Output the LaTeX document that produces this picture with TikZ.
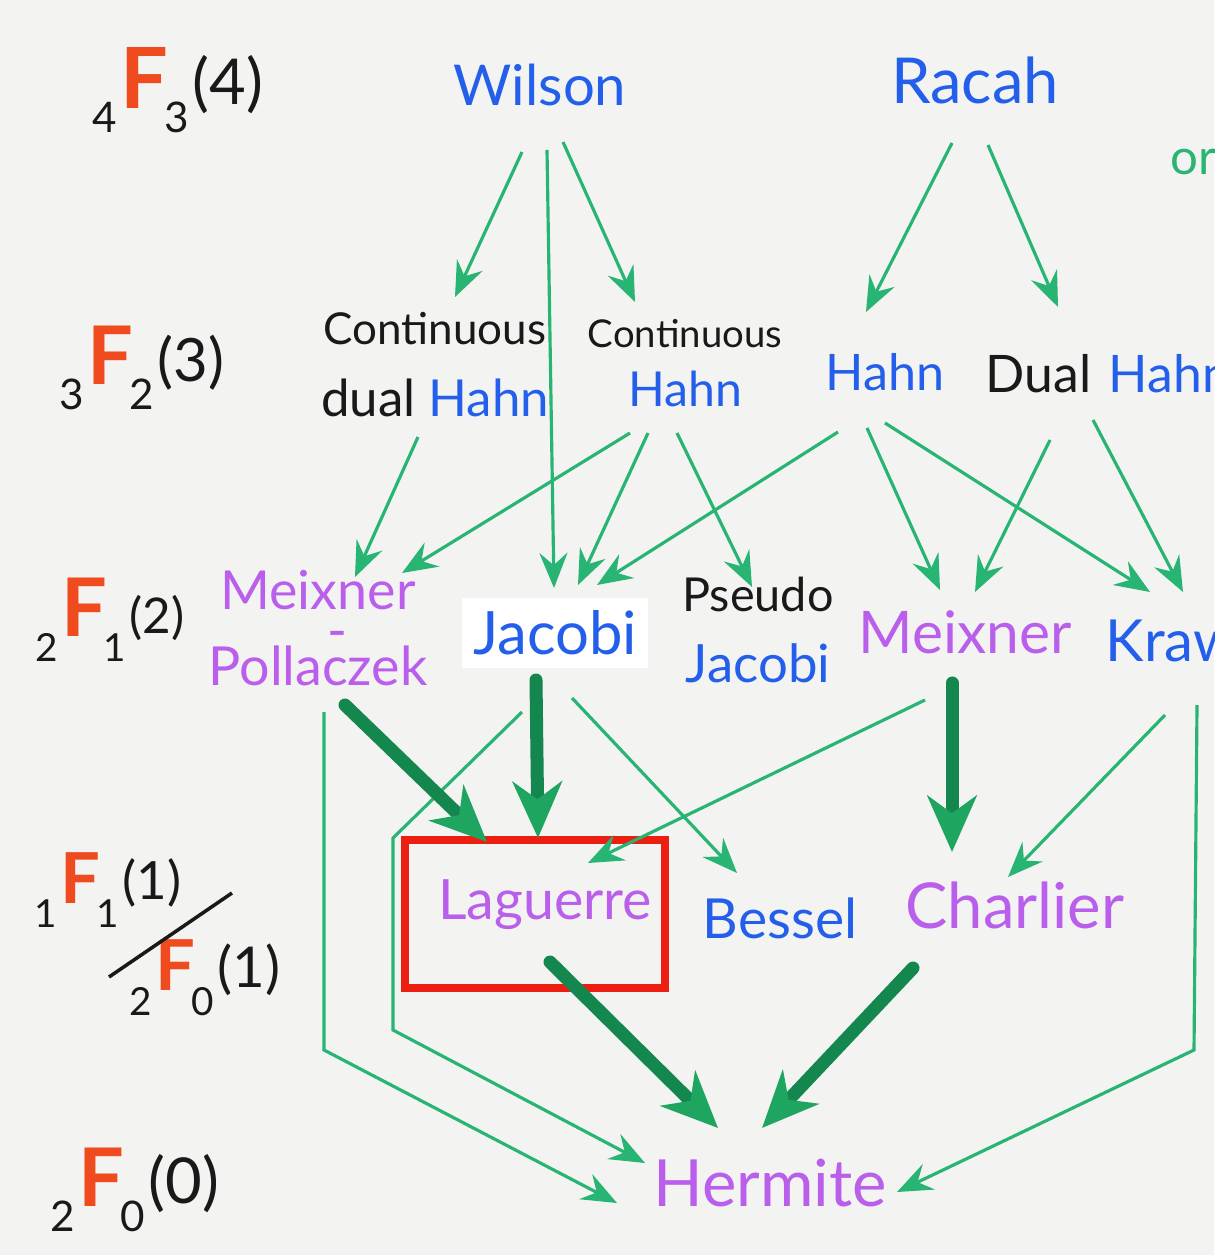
\documentclass[tikz,border=0pt]{standalone}
\usepackage{fontspec}
\setmainfont{Lato}
\setsansfont{Lato}
\usetikzlibrary{arrows.meta,calc}
\definecolor{bg}{RGB}{243,243,242}
\definecolor{tblue}{RGB}{35,95,235}
\definecolor{tpurple}{RGB}{185,95,235}
\definecolor{tblack}{RGB}{25,25,25}
\definecolor{lgreen}{RGB}{40,180,115}
\definecolor{dgreen}{RGB}{20,135,78}
\definecolor{mgreen}{RGB}{30,165,95}
\definecolor{Fred}{RGB}{240,75,30}
\definecolor{boxred}{RGB}{236,30,18}
\newcommand{\myfs}[1]{\fontsize{#1}{#1}\selectfont}
% size of F, size of indices, size of bracket, pre-subscript, post-subscript, bracketed index
\newcommand{\hypF}[6]{\raisebox{-7pt}{\myfs{#2}#4}\kern1pt\textcolor{Fred}{\myfs{#1}\textbf{F}}\kern-1pt\raisebox{-7pt}{\myfs{#2}#5}\kern1pt\raisebox{1pt}{\myfs{#3}(#6)}}
\begin{document}
\begin{tikzpicture}[x=0.01cm,y=-0.01cm,
  lb/.style={inner sep=0pt, align=center, text=tblue},
  hl/.style={inner sep=0pt, text=tblack},
  thinarr/.style={draw=lgreen, line width=0.9pt, -{Stealth[length=10pt,width=8pt,inset=3.5pt]}},
  thickarr/.style={draw=dgreen, line width=3.7pt, line cap=round, -{Stealth[length=16pt,width=14pt,inset=5pt,color=mgreen]}},
  redbox/.style={draw=boxred, line width=2pt}]
\fill[bg] (0,0) rectangle (1214,1255);
\useasboundingbox (0,0) rectangle (1214,1255);

% row labels
\node[hl] (r4) at (178,90) {\hypF{24}{12}{18}{4}{3}{4}};
\node[hl] (r3) at (142,368) {\hypF{23}{12}{17}{3}{2}{3}};
\node[hl] (r2) at (110,620) {\hypF{23}{11}{14}{2}{1}{2}};
\node[hl] (r1a) at (108,890) {\hypF{20}{11}{15}{1}{1}{1}};
\node[hl] (r1b) at (205,978) {\hypF{20}{11}{16}{2}{0}{1}};
\node[hl] (r0) at (135,1190) {\hypF{23}{12}{18}{2}{0}{0}};
\draw[tblack, line width=1pt] ($(r1b)+(-96,-1)$) -- ($(r1a)+(124,3)$);

% families
\node[lb, font=\myfs{16}] (wilson) at (540,85) {Wilson};
\node[lb, font=\myfs{18}] (racah) at (975,80) {Racah};
\node[lb, anchor=west, text=lgreen, font=\myfs{14}] (ornode) at (1170,162) {or};

\node[lb, text=tblack, font=\myfs{14.5}] (cdh) at (435,365) {{\myfs{12.5}Continuous}\\[6pt]dual \textcolor{tblue}{Hahn}};
\node[lb, text=tblack, font=\myfs{13.7}] (ch) at (685,363) {{\myfs{10.9}Continuous}\\[3pt]\textcolor{tblue}{Hahn}};
\node[lb, font=\myfs{14.3}] (hahn) at (885,372) {Hahn};
\node[lb, anchor=west, text=tblack, font=\myfs{14.7}] (dualhahn) at (985,374) {Dual\hspace{5pt}\textcolor{tblue}{Hahn}};

\node[lb, text=tpurple, font=\myfs{15.3}] (mp) at (318,628) {Meixner\\[-4pt]\hspace*{11pt}-\\[-5pt]Pollaczek};
\node[lb, fill=white, minimum width=1.86cm, minimum height=0.7cm, font=\myfs{17}] (jacobi) at (555,633) {Jacobi};
\node[lb, text=tblack, font=\myfs{15}] (pj) at (758,630) {{\myfs{13.3}Pseudo}\\[5pt]\textcolor{tblue}{Jacobi}};
\node[lb, text=tpurple, font=\myfs{16.7}] (meixner) at (965,632) {Meixner};
\node[lb, anchor=west, font=\myfs{16.5}] (kraw) at (1105,640) {Krawtchouk};

\node[lb, text=tpurple, font=\myfs{15.8}] (laguerre) at (545,905) {Laguerre};
\node[lb, font=\myfs{15.7}] (bessel) at (780,918) {Bessel};
\node[lb, text=tpurple, font=\myfs{18}] (charlier) at (1015,905) {Charlier};
\node[lb, text=tpurple, font=\myfs{18.5}] (hermite) at (770,1183) {Hermite};

\draw[redbox] ($(laguerre)+(-140,-65)$) rectangle ($(laguerre)+(120,83)$);

% bend points
\coordinate (mpbend) at (324,1050);
\coordinate (jacA) at (393,838);
\coordinate (jacB) at (393,1030);
\coordinate (krbend) at (1194,1050);

% thin arrows
\draw[thinarr] ($(wilson)+(-18,67)$) -- ($(cdh)+(20,-68)$);
\draw[thinarr] ($(wilson)+(23,57)$) -- ($(ch)+(-50,-61)$);
\draw[thinarr] ($(wilson)+(7,65)$) -- ($(jacobi)+(-1,-45)$);
\draw[thinarr] ($(racah)+(-23,63)$) -- ($(hahn)+(-19,-60)$);
\draw[thinarr] ($(racah)+(13,65)$) -- ($(dualhahn.west)+(73,-67)$);
\draw[thinarr] ($(cdh)+(-17,72)$) -- ($(mp)+(37,-51)$);
\draw[thinarr] ($(ch)+(-55,70)$) -- ($(mp)+(84,-55)$);
\draw[thinarr] ($(ch)+(-37,70)$) -- ($(jacobi)+(23,-48)$);
\draw[thinarr] ($(ch)+(-8,70)$) -- ($(pj)+(-6,-43)$);
\draw[thinarr] ($(hahn)+(-47,60)$) -- ($(jacobi)+(42,-48)$);
\draw[thinarr] ($(hahn)+(-18,56)$) -- ($(meixner)+(-25,-42)$);
\draw[thinarr] ($(hahn)+(0,51)$) -- ($(kraw.west)+(45,-48)$);
\draw[thinarr] ($(dualhahn.west)+(65,66)$) -- ($(meixner)+(10,-40)$);
\draw[thinarr] ($(dualhahn.west)+(108,46)$) -- ($(kraw.west)+(78,-48)$);
\draw[thinarr] ($(jacobi)+(17,65)$) -- ($(bessel)+(-43,-45)$);
\draw[thinarr] ($(meixner)+(-40,68)$) -- ($(laguerre)+(43,-42)$);
\draw[thinarr] ($(kraw.west)+(60,75)$) -- ($(charlier)+(-7,-28)$);
\draw[thinarr] ($(mp)+(6,84)$) -- (mpbend) -- ($(hermite)+(-153,20)$);
\draw[thinarr] ($(jacobi)+(-33,79)$) -- (jacA) -- (jacB) -- ($(hermite)+(-125,-20)$);
\draw[thinarr] ($(kraw.west)+(92,65)$) -- (krbend) -- ($(hermite)+(127,9)$);

% thick arrows
\draw[thickarr] ($(mp)+(27,77)$) -- ($(laguerre)+(-58,-63)$);
\draw[thickarr] ($(jacobi)+(-19,47)$) -- ($(laguerre)+(-7,-67)$);
\draw[thickarr] ($(laguerre)+(5,57)$) -- ($(hermite)+(-52,-55)$);
\draw[thickarr] ($(meixner)+(-13,51)$) -- ($(charlier)+(-63,-53)$);
\draw[thickarr] ($(charlier)+(-102,63)$) -- ($(hermite)+(-8,-55)$);
\end{tikzpicture}
\end{document}
